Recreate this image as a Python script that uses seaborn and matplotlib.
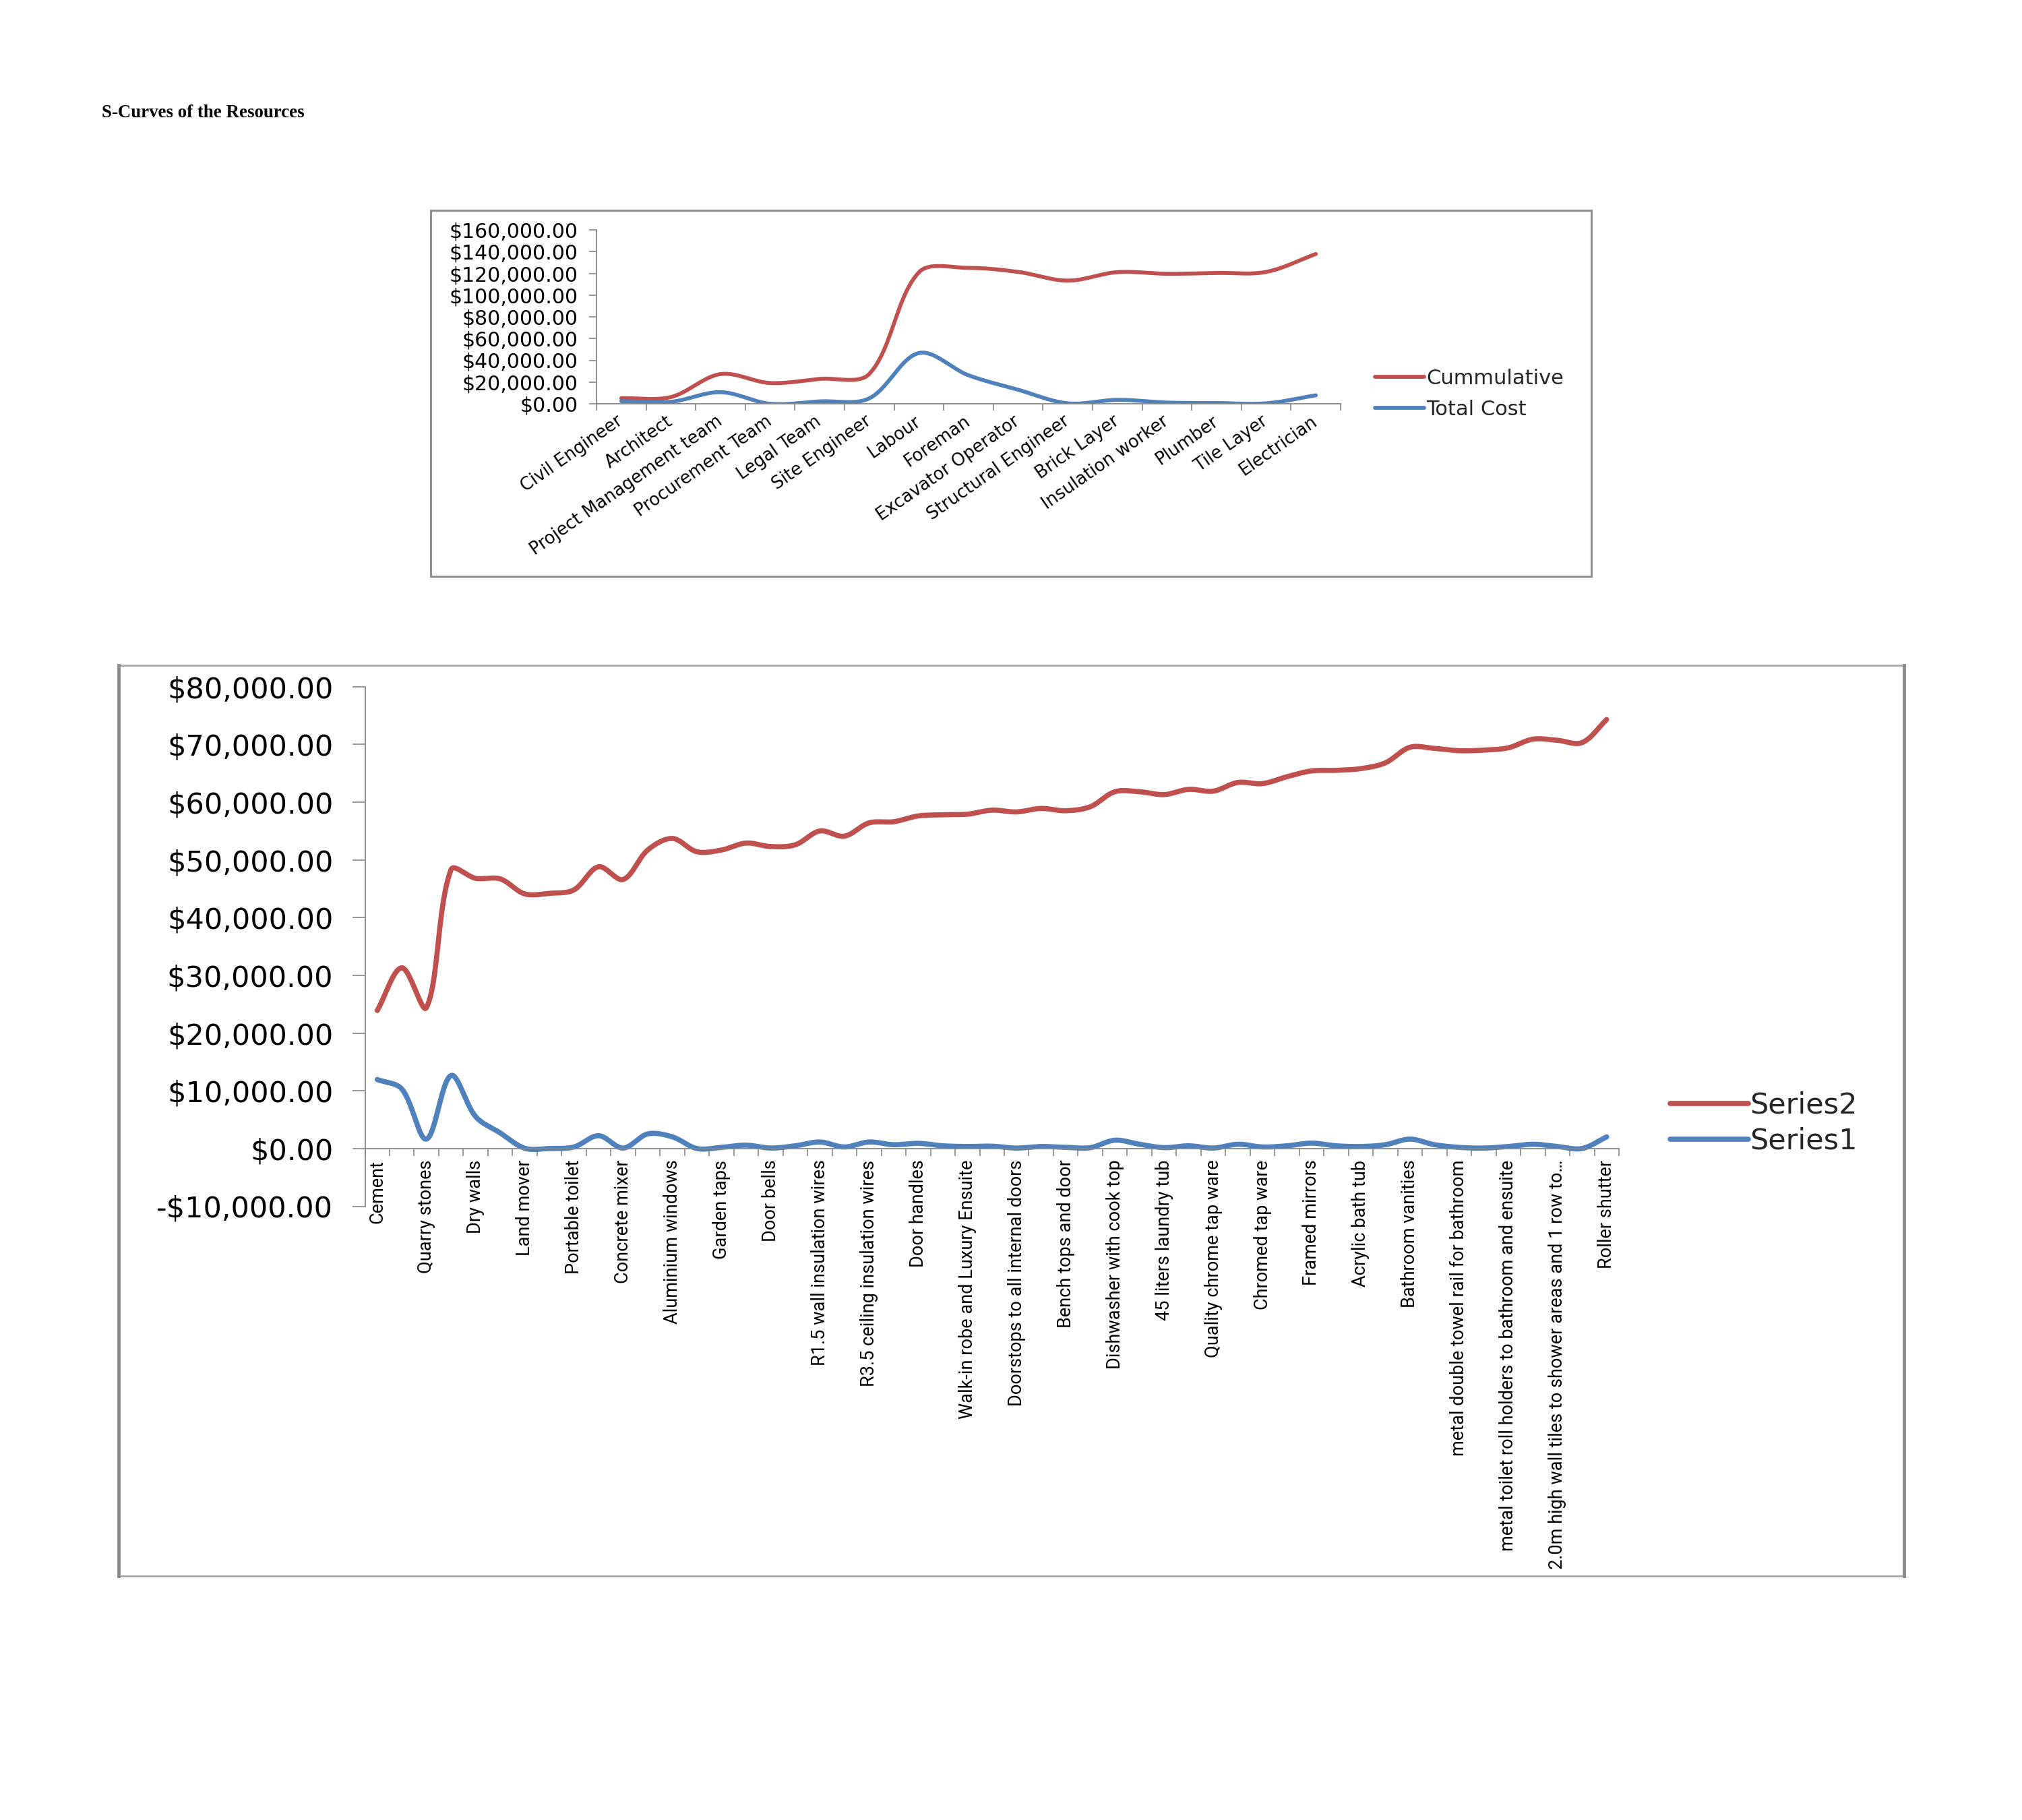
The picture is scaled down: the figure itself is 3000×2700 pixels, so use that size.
import numpy as np
import pandas as pd
import matplotlib
matplotlib.use("Agg")
import matplotlib.pyplot as plt
import seaborn as sns
from matplotlib.lines import Line2D
from matplotlib.ticker import FuncFormatter

sns.set_theme(style="white")
plt.rcParams["font.family"] = ["DejaVu Sans"]

# ---------------- data ----------------
top_categories = ["Civil Engineer", "Architect", "Project Management team", "Procurement Team",
                  "Legal Team", "Site Engineer", "Labour", "Foreman", "Excavator Operator",
                  "Structural Engineer", "Brick Layer", "Insulation worker", "Plumber",
                  "Tile Layer", "Electrician"]
top_cumulative = [5100, 6200, 27300, 19100, 22900, 27500, 121000, 125000, 121300,
                  113300, 121100, 119600, 120400, 121300, 137800]
top_total_cost = [2400, 1800, 10700, 0, 2200, 5000, 46700, 26200, 12900,
                  400, 3600, 1100, 700, 400, 7800]

bottom_tick_labels = ["Cement", "Quarry stones", "Dry walls", "Land mover", "Portable toilet",
                      "Concrete mixer", "Aluminium windows", "Garden taps", "Door bells",
                      "R1.5 wall insulation wires", "R3.5 ceiling insulation wires",
                      "Door handles", "Walk-in robe and Luxury Ensuite",
                      "Doorstops to all internal doors", "Bench tops and door",
                      "Dishwasher with cook top", "45 liters laundry tub",
                      "Quality chrome tap ware", "Chromed tap ware", "Framed mirrors",
                      "Acrylic bath tub", "Bathroom vanities",
                      "metal double towel rail for bathroom",
                      "metal toilet roll holders to bathroom and ensuite",
                      "2.0m high wall tiles to shower areas and 1 row to\u2026",
                      "Roller shutter"]
bottom_series2 = [23900, 31300, 24400, 48300, 46800, 46700, 44100, 44200, 44800, 48800,
                  46600, 51700, 53700, 51400, 51700, 52900, 52300, 52600, 55000, 54100,
                  56400, 56600, 57600, 57800, 57900, 58600, 58300, 58900, 58500, 59200,
                  61800, 61800, 61300, 62200, 61900, 63400, 63200, 64400, 65400, 65500,
                  65800, 66800, 69500, 69300, 68900, 69000, 69400, 70900, 70700, 70300,
                  74300]
bottom_series1 = [11950, 10300, 1630, 12650, 5530, 2700, 50, 0, 270, 2220,
                  80, 2530, 2020, 0, 200, 580, 80, 470, 1130, 270,
                  1130, 660, 900, 470, 350, 400, 80, 350, 200, 150,
                  1440, 740, 150, 470, 80, 740, 270, 470, 930, 470,
                  350, 660, 1630, 660, 200, 80, 350, 740, 350, 0,
                  2020]

RED = "#C0504D"
BLUE = "#4F81BD"
AXIS_GREY = "#868686"
W, H = 3000, 2700


def smooth(values, xscale, yscale, n=24, tension=1.0 / 3.0):
    """Excel-like smoothed line: Bezier segments through every point, control
    points weighted by the on-screen chord lengths of the neighbouring segments."""
    y = np.asarray(values, float)
    x = np.arange(len(y), dtype=float)
    P = np.column_stack([x * xscale, y * yscale])
    m = len(P)
    right = np.zeros_like(P)
    left = np.zeros_like(P)
    for i in range(m):
        p0 = P[max(i - 1, 0)]
        p2 = P[min(i + 1, m - 1)]
        p1 = P[i]
        d01 = np.hypot(*(p1 - p0))
        d12 = np.hypot(*(p2 - p1))
        tot = d01 + d12
        if tot == 0:
            left[i] = right[i] = p1
            continue
        fa = tension * d01 / tot
        fb = tension * d12 / tot
        left[i] = p1 - fa * (p2 - p0)
        right[i] = p1 + fb * (p2 - p0)
    t = np.linspace(0, 1, n, endpoint=False)[:, None]
    pts = []
    for i in range(m - 1):
        a, b, c, d = P[i], right[i], left[i + 1], P[i + 1]
        seg = ((1 - t) ** 3) * a + 3 * ((1 - t) ** 2) * t * b + 3 * (1 - t) * t ** 2 * c + t ** 3 * d
        pts.append(seg)
    pts.append(P[-1][None, :])
    pts = np.vstack(pts)
    return pts[:, 0] / xscale, pts[:, 1] / yscale


def fig_rect(x0, y0, x1, y1):
    return [x0 / W, 1 - y1 / H, (x1 - x0) / W, (y1 - y0) / H]


money = FuncFormatter(lambda v, p: ("-$" if v < 0 else "$") + f"{abs(v):,.2f}")

fig = plt.figure(figsize=(30, 27), dpi=100)
fig.patch.set_facecolor("white")

# title
fig.text(151 / W, 1 - 168 / H, "S-Curves of the Resources", fontfamily="Liberation Serif",
         fontweight="bold", fontsize=19.4, va="center", ha="left", color="black")

# chart frames
def frame(x0, y0, x1, y1, side_lw, tb_lw, side_col, tb_col):
    for (xa, ya, xb, yb, lw, c) in [(x0, y0, x1, y0, tb_lw, tb_col), (x0, y1, x1, y1, tb_lw, tb_col),
                                     (x0, y0, x0, y1, side_lw, side_col), (x1, y0, x1, y1, side_lw, side_col)]:
        fig.add_artist(Line2D([xa / W, xb / W], [1 - ya / H, 1 - yb / H], lw=lw, color=c,
                              transform=fig.transFigure, solid_capstyle="projecting"))

frame(639, 312, 2361, 855, 2.2, 2.2, "#8f8f8f", "#8f8f8f")
frame(176, 987, 2825, 2338, 3.5, 2.0, "#8a8a8a", "#a8a8a8")

# ---------------- top chart ----------------
ax1 = fig.add_axes(fig_rect(885, 341, 1989, 599))
n_t = len(top_categories)
sx_t = (1989 - 885) / n_t
sy_t = (599 - 341) / 160000
xs, ys = smooth(top_cumulative, sx_t, sy_t)
df_c = pd.DataFrame({"x": xs, "y": ys})
xs2, ys2 = smooth(top_total_cost, sx_t, sy_t)
df_t = pd.DataFrame({"x": xs2, "y": ys2})
sns.lineplot(data=df_c, x="x", y="y", ax=ax1, color=RED, lw=4.2, sort=False, estimator=None)
sns.lineplot(data=df_t, x="x", y="y", ax=ax1, color=BLUE, lw=4.2, sort=False, estimator=None)
ax1.set_xlim(-0.5, n_t - 0.5)
ax1.set_ylim(0, 160000)
for s in ["top", "right"]:
    ax1.spines[s].set_visible(False)
for s in ["left", "bottom"]:
    ax1.spines[s].set_color(AXIS_GREY)
    ax1.spines[s].set_linewidth(1.3)
ax1.set_yticks(np.arange(0, 160001, 20000))
ax1.yaxis.set_major_formatter(money)
ax1.set_xticks(np.arange(-0.5, n_t, 1.0))
ax1.set_xticklabels([])
ax1.set_xticks(np.arange(n_t), minor=True)
ax1.set_xticklabels(top_categories, minor=True, rotation=35, ha="right", va="center",
                    rotation_mode="anchor")
ax1.tick_params(axis="x", which="major", direction="out", length=7, width=1.2, color=AXIS_GREY, bottom=True)
ax1.tick_params(axis="x", which="minor", length=0, pad=17, labelsize=18.5, labelcolor="black")
ax1.tick_params(axis="y", direction="out", length=8, width=1.2, color=AXIS_GREY, left=True,
                labelsize=21.5, pad=12, labelcolor="black")
ax1.set_xlabel(""); ax1.set_ylabel("")
ax1.grid(False)
ax1.patch.set_alpha(0)

h_top = [Line2D([], [], color=RED, lw=4.2), Line2D([], [], color=BLUE, lw=4.2)]
fig.legend(h_top, ["Cummulative", "Total Cost"], loc="upper left",
           bbox_to_anchor=(2040 / W, 1 - 547 / H), frameon=False, fontsize=22,
           handlelength=2.4, handletextpad=0.1, labelspacing=0.55, borderpad=0, borderaxespad=0)

# ---------------- bottom chart ----------------
ax2 = fig.add_axes(fig_rect(541.5, 1018.6, 2402, 1789.5))
n_b = len(bottom_series2)
sx_b = (2402 - 541.5) / n_b
sy_b = (1789.5 - 1018.6) / 90000
bx, by = smooth(bottom_series2, sx_b, sy_b)
df2 = pd.DataFrame({"x": bx, "y": by})
bx1, by1 = smooth(bottom_series1, sx_b, sy_b)
df1 = pd.DataFrame({"x": bx1, "y": by1})
sns.lineplot(data=df2, x="x", y="y", ax=ax2, color=RED, lw=5.5, sort=False, estimator=None)
sns.lineplot(data=df1, x="x", y="y", ax=ax2, color=BLUE, lw=5.5, sort=False, estimator=None)
ax2.set_xlim(-0.5, n_b - 0.5)
ax2.set_ylim(-10000, 80000)
for s in ["top", "right"]:
    ax2.spines[s].set_visible(False)
for s in ["left", "bottom"]:
    ax2.spines[s].set_color(AXIS_GREY)
    ax2.spines[s].set_linewidth(1.3)
ax2.spines["bottom"].set_position(("data", 0))
ax2.set_yticks(np.arange(-10000, 80001, 10000))
ax2.yaxis.set_major_formatter(money)
ax2.set_xticks(np.arange(-0.5, n_b, 1.0))
ax2.set_xticklabels([])
ax2.set_xticks(np.arange(0, n_b, 2), minor=True)
ax2.set_xticklabels(bottom_tick_labels, minor=True, rotation=90, ha="center", va="top",
                    fontfamily=["Roboto"])
ax2.tick_params(axis="x", which="major", direction="out", length=8, width=1.2, color=AXIS_GREY, bottom=True)
ax2.tick_params(axis="x", which="minor", length=0, pad=12, labelsize=19.5, labelcolor="black")
ax2.tick_params(axis="y", direction="out", length=14, width=1.2, color=AXIS_GREY, left=True,
                labelsize=31, pad=20, labelcolor="black")
ax2.set_xlabel(""); ax2.set_ylabel("")
ax2.grid(False)
ax2.patch.set_alpha(0)

h_bot = [Line2D([], [], color=RED, lw=5.5), Line2D([], [], color=BLUE, lw=5.5)]
fig.legend(h_bot, ["Series2", "Series1"], loc="upper left",
           bbox_to_anchor=(2478 / W, 1 - 1619 / H), frameon=False, fontsize=31,
           handlelength=2.7, handletextpad=0.05, labelspacing=0.25, borderpad=0, borderaxespad=0)

fig.savefig("out.png", dpi=100, facecolor="white")
